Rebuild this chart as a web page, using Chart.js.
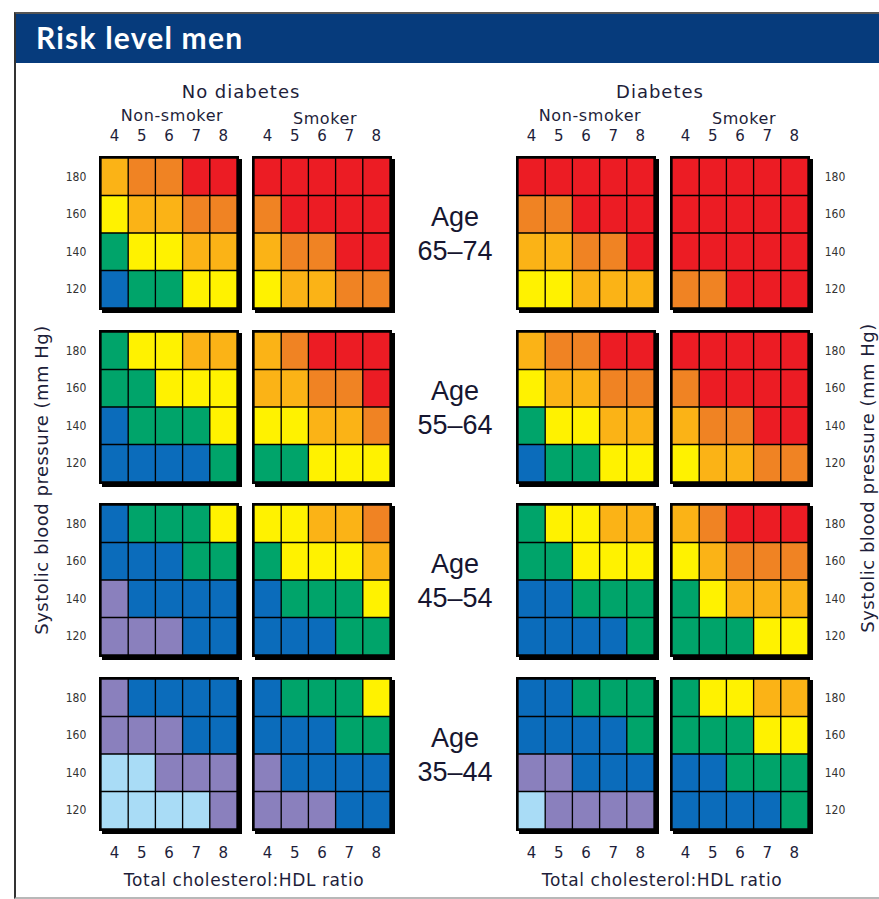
<!DOCTYPE html>
<html lang="en">
<head>
<meta charset="UTF-8">
<title>Risk level men</title>
<script src="https://cdn.jsdelivr.net/npm/chart.js"></script>
<style>
    body {
        margin: 0;
        width: 879px;
        height: 899px;
        position: relative;
        overflow: hidden;
        background: #fff;
        font-family: "DejaVu Sans", sans-serif;
        color: #1e1e3a;
    }
    #frame {
        position: absolute;
        left: 14px; top: 12px;
        width: 880px; height: 883px;
        border-left: 2px solid #333;
        border-top: 2px solid #555;
        border-bottom: 2px solid #b8b8b8;
    }
    #titlebar {
        position: absolute;
        left: 16px; top: 14px; right: 0;
        height: 49px;
        background: #063b7c;
    }
    #titlebar span {
        position: absolute;
        left: 20px; top: 5px;
        color: #fff;
        font-family: Lato, sans-serif;
        font-weight: bold;
        font-size: 30px;
        letter-spacing: 1.2px;
    }
    .panel {
        position: absolute;
        width: 136px; height: 150px;
        border: 2px solid #000;
        box-shadow: 3px 3px 0 #000;
        background: #000;
    }
    .lbl {
        position: absolute;
        transform: translate(-50%, -50%);
        white-space: nowrap;
    }
    .group { font-size: 18px; letter-spacing: 1px; }
    .smoke { font-size: 16px; letter-spacing: 0.6px; }
    .num { font-size: 15px; }
    .tick { font-family: "Liberation Sans Narrow", "DejaVu Sans Condensed", sans-serif; font-size: 12px; color: #333; }
    .age { font-family: "Liberation Sans", Arial, sans-serif; font-size: 27px; color: #161630; }
    .axis { font-size: 17px; letter-spacing: 0.6px; }
    .vaxis { position: absolute; transform: translate(-50%, -50%) rotate(-90deg); white-space: nowrap; font-size: 18px; letter-spacing: 0.5px; }
</style>
</head>
<body>
<div id="frame"></div>
<div id="titlebar"><span>Risk level men</span></div>

<script>
    // risk level per cell: 0 light blue ... 7 red
    const riskColors = ['#a9dcf6', '#8a80bd', '#0b6cbb', '#00a46a', '#fff200', '#fbb316', '#f08323', '#ec1c24'];

    const ratioLabels = ['4', '5', '6', '7', '8'];
    const sbpLabels = ['180', '160', '140', '120'];
    const ageLabels = ['65\u201374', '55\u201364', '45\u201354', '35\u201344'];
    const diabetesLabels = ['No diabetes', 'Diabetes'];
    const smokerLabels = ['Non-smoker', 'Smoker'];

    // rows are 180, 160, 140, 120; columns are ratio 4..8
    const age65NoDiabNonSmoker = [[5,6,6,7,7],[4,5,5,6,6],[3,4,4,5,5],[2,3,3,4,4]];
    const age65NoDiabSmoker    = [[7,7,7,7,7],[6,7,7,7,7],[5,6,6,7,7],[4,5,5,6,6]];
    const age65DiabNonSmoker   = [[7,7,7,7,7],[6,6,7,7,7],[5,5,6,6,7],[4,4,5,5,5]];
    const age65DiabSmoker      = [[7,7,7,7,7],[7,7,7,7,7],[7,7,7,7,7],[6,6,7,7,7]];

    const age55NoDiabNonSmoker = [[3,4,4,5,5],[3,3,4,4,4],[2,3,3,3,4],[2,2,2,2,3]];
    const age55NoDiabSmoker    = [[5,6,7,7,7],[5,5,6,6,7],[4,4,5,5,6],[3,3,4,4,4]];
    const age55DiabNonSmoker   = [[5,6,6,7,7],[4,5,5,6,6],[3,4,4,5,5],[2,3,3,4,4]];
    const age55DiabSmoker      = [[7,7,7,7,7],[6,7,7,7,7],[5,6,6,7,7],[4,5,5,6,6]];

    const age45NoDiabNonSmoker = [[2,3,3,3,4],[2,2,2,3,3],[1,2,2,2,2],[1,1,1,2,2]];
    const age45NoDiabSmoker    = [[4,4,5,5,6],[3,4,4,4,5],[2,3,3,3,4],[2,2,2,3,3]];
    const age45DiabNonSmoker   = [[3,4,4,5,5],[3,3,4,4,4],[2,2,3,3,3],[2,2,2,2,3]];
    const age45DiabSmoker      = [[5,6,7,7,7],[4,5,6,6,6],[3,4,5,5,5],[3,3,3,4,4]];

    const age35NoDiabNonSmoker = [[1,2,2,2,2],[1,1,1,2,2],[0,0,1,1,1],[0,0,0,0,1]];
    const age35NoDiabSmoker    = [[2,3,3,3,4],[2,2,2,3,3],[1,2,2,2,2],[1,1,1,2,2]];
    const age35DiabNonSmoker   = [[2,2,3,3,3],[2,2,2,2,3],[1,1,2,2,2],[0,1,1,1,1]];
    const age35DiabSmoker      = [[3,4,4,5,5],[3,3,3,4,4],[2,2,3,3,3],[2,2,2,2,3]];

    const panels = [
        [age65NoDiabNonSmoker, age65NoDiabSmoker, age65DiabNonSmoker, age65DiabSmoker],
        [age55NoDiabNonSmoker, age55NoDiabSmoker, age55DiabNonSmoker, age55DiabSmoker],
        [age45NoDiabNonSmoker, age45NoDiabSmoker, age45DiabNonSmoker, age45DiabSmoker],
        [age35NoDiabNonSmoker, age35NoDiabSmoker, age35DiabNonSmoker, age35DiabSmoker]
    ];

    // layout
    const colLeft = [99, 252, 516, 670];
    const rowTop = [156, 330, 503, 677];
    const cellW = 136 / 5, cellH = 150 / 4;

    function addLabel(text, x, y, cls) {
        const d = document.createElement('div');
        d.className = 'lbl ' + cls;
        d.textContent = text;
        d.style.left = x + 'px';
        d.style.top = y + 'px';
        document.body.appendChild(d);
        return d;
    }

    // headers
    addLabel(diabetesLabels[0], 241, 91, 'group');
    addLabel(diabetesLabels[1], 660, 91, 'group');
    addLabel(smokerLabels[0], 172, 115, 'smoke');
    addLabel(smokerLabels[1], 325, 118, 'smoke');
    addLabel(smokerLabels[0], 590, 115, 'smoke');
    addLabel(smokerLabels[1], 744, 118, 'smoke');

    colLeft.forEach(left => {
        ratioLabels.forEach((r, i) => {
            const cx = left + 2 + (i + 0.5) * cellW;
            addLabel(r, cx, 136, 'num');
            addLabel(r, cx, 853, 'num');
        });
    });
    addLabel('Total cholesterol:HDL ratio', 244, 880, 'axis');
    addLabel('Total cholesterol:HDL ratio', 662, 880, 'axis');

    const vl = document.createElement('div');
    vl.className = 'vaxis';
    vl.textContent = 'Systolic blood pressure (mm Hg)';
    vl.style.left = '41px'; vl.style.top = '480px';
    document.body.appendChild(vl);
    const vr = vl.cloneNode(true);
    vr.style.left = '867px'; vr.style.top = '478px';
    document.body.appendChild(vr);

    rowTop.forEach((top, a) => {
        sbpLabels.forEach((s, r) => {
            const cy = top + 2 + (r + 0.5) * cellH;
            addLabel(s, 76, cy, 'tick');
            addLabel(s, 835, cy, 'tick');
        });
        addLabel('Age', 455, top + 61, 'age');
        addLabel(ageLabels[a], 455, top + 95, 'age');

        colLeft.forEach((left, c) => {
            const grid = panels[a][c];
            const box = document.createElement('div');
            box.className = 'panel';
            box.style.left = left + 'px';
            box.style.top = top + 'px';
            const cv = document.createElement('canvas');
            box.appendChild(cv);
            document.body.appendChild(box);

            // stacked bars: bottom row (120) first, each cell one unit tall
            const datasets = sbpLabels.slice().reverse().map((s, k) => {
                const row = grid[sbpLabels.length - 1 - k];
                return {
                    label: s,
                    data: row.map(() => 1),
                    backgroundColor: row.map(l => riskColors[l]),
                    borderColor: '#000',
                    borderWidth: 1,
                    borderSkipped: false,
                    barPercentage: 1,
                    categoryPercentage: 1
                };
            });

            new Chart(cv, {
                type: 'bar',
                data: { labels: ratioLabels, datasets: datasets },
                options: {
                    responsive: true,
                    maintainAspectRatio: false,
                    animation: false,
                    layout: { padding: 0 },
                    scales: {
                        x: { stacked: true, display: false },
                        y: { stacked: true, display: false, min: 0, max: 4 }
                    },
                    plugins: {
                        legend: { display: false },
                        tooltip: { enabled: false }
                    }
                }
            });
        });
    });
</script>
</body>
</html>
